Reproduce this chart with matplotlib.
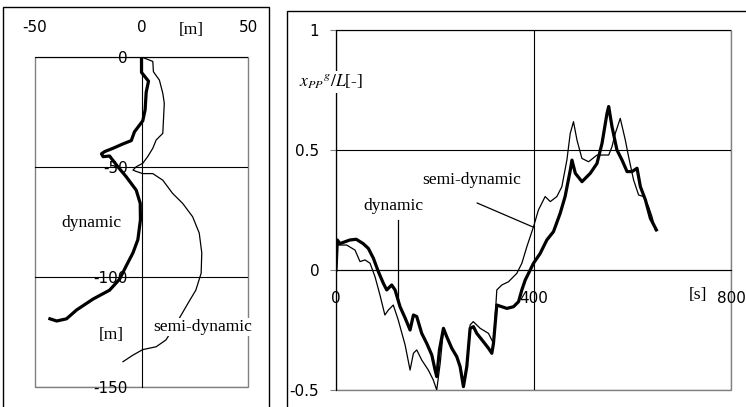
import matplotlib
matplotlib.use('Agg')
import matplotlib.pyplot as plt
from matplotlib.patches import Rectangle

plt.rcParams['mathtext.fontset'] = 'stix'
plt.rcParams['axes.unicode_minus'] = False

# left panel: track in the horizontal plane [m]
dyn_x = [0, 0, 3.3, 2.2, 1.7, 0.6, -3.3, -4.8, -8.7, -13.4, -17.3, -18.8, -18, -15,
         -11, -7.2, -2.5, -0.6, -0.5, -1.7, -4, -7.2, -10.3, -15, -22.7, -30.5,
         -35.2, -39.8, -43]
dyn_y = [0, -7, -11, -16, -24, -29, -34, -38, -39.5, -41.5, -43, -44, -45.3, -45,
         -50, -54.4, -60.5, -66.5, -74, -83, -89, -95, -101, -106, -110, -115,
         -119, -120, -119]
semi_x = [-4, 0, 5.3, 5.6, 8.4, 10, 10.7, 10, 6.9, 5.3, 2.9, 0.6, -2.5, -4, -2.5,
          0.6, 5.3, 10, 14.6, 19.3, 24, 27.1, 28.3, 28, 25.5, 22.4, 17, 11.5, 6.9,
          0.6, -4, -8.7]
semi_y = [0, 0, -2, -6.7, -10.5, -16.5, -21, -34.7, -37.7, -41.5, -45.3, -48.3,
          -49.9, -51.4, -52, -53, -53, -56, -62, -66.5, -72.6, -80, -89, -98.3,
          -106, -111, -120, -128.6, -131.7, -133, -135.5, -138.5]

# right panel: x_PP^g / L over time [s]
dyn_t = [0, 2.7, 8, 28, 41, 55, 65.5, 75.7, 85.8, 96,
         102.7, 112.8, 119.6, 129.7, 140, 150, 156.8, 163.5, 173.6, 183.8,
         194, 200.7, 204, 209.5, 217.6, 224.3, 234.5, 244.6, 251.4, 258.1,
         264.9, 271.6, 278.4, 285.1, 298.6, 308.8, 315.6, 318.9, 325.7, 335.8,
         346, 359.5, 369.7, 376.4, 383.2, 400, 413.5, 427, 440.5, 454,
         464, 474.6, 477.9, 484.7, 498.2, 515, 528.6, 538.8, 548.9, 552.3,
         559, 569, 579.3, 589.5, 599.6, 609.7, 616.5, 626.7, 636.8, 648.9]
dyn_v = [0, 0.125, 0.11, 0.125, 0.128, 0.11, 0.09, 0.049, -0.007, -0.056,
         -0.083, -0.0625, -0.083, -0.153, -0.2, -0.25, -0.1875, -0.194, -0.264, -0.306,
         -0.354, -0.417, -0.444, -0.333, -0.243, -0.278, -0.326, -0.361, -0.403, -0.486,
         -0.403, -0.243, -0.236, -0.264, -0.299, -0.326, -0.347, -0.306, -0.146, -0.153,
         -0.16, -0.153, -0.132, -0.083, -0.042, 0.028, 0.069, 0.125, 0.16, 0.236,
         0.306, 0.417, 0.458, 0.403, 0.368, 0.403, 0.444, 0.528, 0.653, 0.681,
         0.597, 0.5, 0.458, 0.41, 0.41, 0.424, 0.347, 0.292, 0.215, 0.167]
semi_t = [0, 1.4, 21.6, 38.5, 48.6, 58.8, 69, 79, 89, 99,
          106, 116, 126, 140, 150, 156.8, 163.5, 173.6, 187, 197,
          204, 211, 217.6, 224.3, 234.5, 244.6, 251.4, 258.1, 264.9, 271.6,
          278, 292, 308.8, 319, 325.7, 335.8, 349.3, 366.2, 376.4, 386.5,
          400, 410, 423.6, 434, 447.3, 457.4, 467.6, 474.4, 481, 488,
          498, 511.6, 528.6, 542, 552.3, 559, 565.6, 575.7, 585.9, 592.6,
          602.7, 612.9, 623, 633, 640, 646.6]
semi_v = [0, 0.104, 0.104, 0.083, 0.035, 0.042, 0.028, -0.028, -0.104, -0.1875,
          -0.167, -0.146, -0.208, -0.3125, -0.417, -0.347, -0.333, -0.375, -0.417, -0.458,
          -0.5, -0.389, -0.25, -0.28, -0.33, -0.365, -0.4, -0.47, -0.4, -0.229,
          -0.215, -0.243, -0.264, -0.306, -0.083, -0.0625, -0.049, -0.014, 0.028, 0.097,
          0.18, 0.25, 0.306, 0.285, 0.306, 0.347, 0.458, 0.569, 0.618, 0.542,
          0.465, 0.451, 0.479, 0.479, 0.479, 0.514, 0.569, 0.632, 0.542, 0.472,
          0.375, 0.3125, 0.306, 0.264, 0.222, 0.167]

sans = 'DejaVu Sans'
serif = 'Liberation Serif'
frame = '#808080'
fs = 12.6

fig = plt.figure(figsize=(7.46, 4.07), dpi=100)

# outer boxes of the two panels
fig.patches.append(Rectangle((3 / 746, -0.05), 266 / 746, 1.05 - 7 / 407, transform=fig.transFigure,
                             fill=False, edgecolor='black', lw=1))
fig.patches.append(Rectangle((287 / 746, -0.05), 0.7, 1.05 - 11 / 407, transform=fig.transFigure,
                             fill=False, edgecolor='black', lw=1))

# ---- left panel
ax1 = fig.add_axes([35 / 746, 1 - 387 / 407, 213 / 746, 330 / 407])
ax1.plot(semi_x, semi_y, color='black', lw=0.9)
ax1.plot(dyn_x, dyn_y, color='black', lw=2.3)
ax1.set_xlim(-50, 50)
ax1.set_ylim(-150, 0)
for s in ['right', 'bottom', 'top']:
    ax1.spines[s].set_visible(False)
ax1.spines['left'].set_position(('data', 0))
ax1.spines['left'].set_linewidth(0.8)
ax1.patch.set_edgecolor(frame)
ax1.patch.set_linewidth(1.0)
ax1.set_xticks([-50, 0, 50])
ax1.set_yticks([-150, -100, -50, 0])
ax1.xaxis.tick_top()
ax1.tick_params(axis='x', length=0, pad=16, labelsize=11)
ax1.tick_params(axis='y', length=0, pad=10, labelsize=11)
for lab in ax1.get_xticklabels() + ax1.get_yticklabels():
    lab.set_fontfamily(sans)
ax1.grid(True, axis='y', color='black', lw=0.8)
ax1.text(23.4, 12.3, '[m]', family=serif, fontsize=fs, ha='center', va='center', clip_on=False)
ax1.text(-14, -126.4, '[m]', family=serif, fontsize=fs, ha='center', va='center')
ax1.text(-23.5, -75.5, 'dynamic', family=serif, fontsize=fs, ha='center', va='center')
ax1.text(28.5, -122.7, 'semi-dynamic', family=serif, fontsize=fs, ha='center', va='center',
         bbox=dict(facecolor='white', edgecolor='none', pad=1))

# ---- right panel
ax2 = fig.add_axes([336 / 746, 1 - 390 / 407, 395 / 746, 360 / 407])
ax2.plot(semi_t, semi_v, color='black', lw=0.9)
ax2.plot(dyn_t, dyn_v, color='black', lw=2.3)
ax2.set_xlim(0, 800)
ax2.set_ylim(-0.5, 1)
for s in ['right', 'top']:
    ax2.spines[s].set_visible(False)
ax2.spines['left'].set_position(('data', 0))
ax2.spines['bottom'].set_position(('data', 0))
ax2.spines['left'].set_linewidth(0.8)
ax2.spines['bottom'].set_linewidth(0.8)
ax2.patch.set_edgecolor(frame)
ax2.patch.set_linewidth(1.0)
ax2.set_xticks([0, 400, 800])
ax2.set_yticks([-0.5, 0, 0.5, 1])
ax2.set_yticklabels(['-0.5', '0', '0.5', '1'])
ax2.tick_params(axis='x', length=0, pad=15, labelsize=11)
ax2.tick_params(axis='y', length=4, pad=8, labelsize=11, color=frame)
for lab in ax2.get_xticklabels() + ax2.get_yticklabels():
    lab.set_fontfamily(sans)
ax2.grid(True, color='black', lw=0.8)
ax2.text(-10, 0.783, r'$x_{PP}{}^{g}/L$[-]', family=serif, fontsize=fs, ha='center', va='center',
         clip_on=False, bbox=dict(facecolor='white', edgecolor='none', pad=1))
ax2.text(733, -0.104, '[s]', family=serif, fontsize=fs, ha='center', va='center')
ax2.text(275.6, 0.375, 'semi-dynamic', family=serif, fontsize=fs, ha='center', va='center')
ax2.text(115.7, 0.267, 'dynamic', family=serif, fontsize=fs, ha='center', va='center')
ax2.plot([286, 398], [0.279, 0.18], color='black', lw=0.9)
ax2.plot([126, 126], [0.208, -0.133], color='black', lw=0.9)

fig.savefig('out.png', dpi=100)
